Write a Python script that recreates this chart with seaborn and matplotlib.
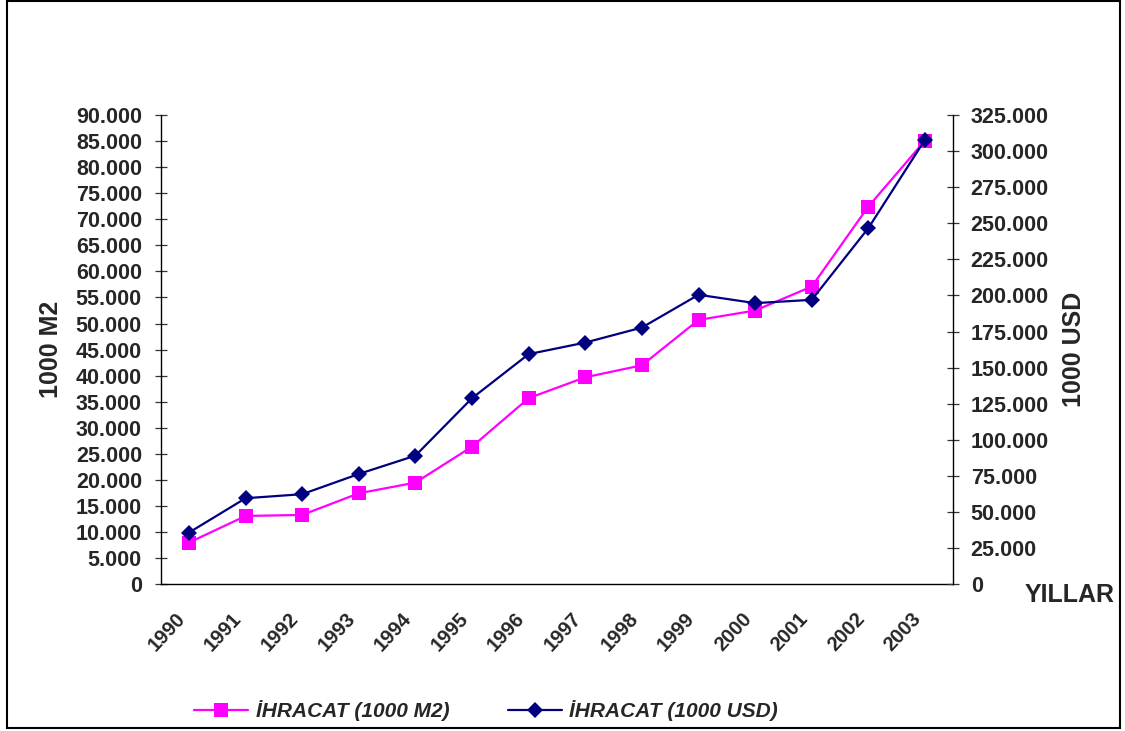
import numpy as np
import pandas as pd
import matplotlib
matplotlib.use("Agg")
import matplotlib.pyplot as plt
from matplotlib.ticker import FuncFormatter, MultipleLocator, FixedLocator
from matplotlib.patches import Rectangle
from matplotlib.lines import Line2D
import seaborn as sns

years = [1990, 1991, 1992, 1993, 1994, 1995, 1996, 1997, 1998, 1999, 2000, 2001, 2002, 2003]
ihracat_m2 = [8000, 13100, 13300, 17450, 19500, 26400, 35700, 39700, 42000, 50700, 52500, 57100, 72450, 85100]
ihracat_usd = [35800, 59600, 62400, 76400, 89100, 128900, 159400, 167400, 177800, 200500, 194700, 197000, 246700, 307900]

label_m2 = "İHRACAT (1000 M2)"
label_usd = "İHRACAT (1000 USD)"
pink = "#FF00FF"
navy = "#000080"

sns.set_style("white")
plt.rcParams['font.family'] = ['Liberation Sans', 'DejaVu Sans']
plt.rcParams['font.weight'] = 'bold'

df = pd.DataFrame({"yil": years, "m2": ihracat_m2, "usd": ihracat_usd})

fig = plt.figure(figsize=(11.25, 7.31), dpi=100)
ax = fig.add_axes([0.1428, 0.2007, 0.8474 - 0.1428, 0.8427 - 0.2007])
ax2 = ax.twinx()

sns.lineplot(data=df, x="yil", y="m2", ax=ax, color=pink, lw=1.6, marker="s",
             markersize=10.5, markeredgewidth=0, legend=False)
sns.lineplot(data=df, x="yil", y="usd", ax=ax2, color=navy, lw=1.6, marker="D",
             markersize=8, markeredgewidth=0, legend=False)

dot = FuncFormatter(lambda v, p: f"{v:,.0f}".replace(",", "."))

ax.set_xlim(years[0] - 0.5, years[-1] + 0.5)
ax.set_ylim(0, 90000)
ax2.set_ylim(0, 325000)
ax.yaxis.set_major_locator(MultipleLocator(5000))
ax2.yaxis.set_major_locator(MultipleLocator(25000))
ax.yaxis.set_major_formatter(dot)
ax2.yaxis.set_major_formatter(dot)

# tick marks on category edges, labels on category centres
ax.xaxis.set_major_locator(FixedLocator(np.arange(years[0] - 0.5, years[-1] + 1, 1)))
ax.xaxis.set_major_formatter(FuncFormatter(lambda v, p: ""))
ax.xaxis.set_minor_locator(FixedLocator(years))
ax.xaxis.set_minor_formatter(FuncFormatter(lambda v, p: str(int(round(v)))))

ax.tick_params(axis="x", which="major", direction="inout", length=9, width=0.9, color="#333333")
ax.tick_params(axis="x", which="minor", length=0, pad=18, labelsize=14.5)
ax.tick_params(axis="y", direction="inout", length=9, width=0.9, color="#333333",
               pad=9, labelsize=15.5, left=True)
ax2.tick_params(axis="y", direction="inout", length=9, width=0.9, color="#333333",
                pad=8, labelsize=15.5, right=True)
for t in ax.xaxis.get_minorticklabels():
    t.set_rotation(47)
    t.set_ha("right")
    t.set_va("top")
    t.set_fontweight("bold")

for a in (ax, ax2):
    a.spines["top"].set_visible(False)
    for s in ("left", "right", "bottom"):
        a.spines[s].set_color("black")
        a.spines[s].set_linewidth(1.0)
ax.spines["right"].set_visible(False)
ax2.spines["left"].set_visible(False)
ax2.spines["bottom"].set_visible(False)

ax.set_xlabel("")
ax.set_ylabel("1000 M2", fontsize=18, fontweight="bold")
ax.yaxis.set_label_coords(-0.123, 0.5)
ax2.set_ylabel("1000 USD", fontsize=18, fontweight="bold", rotation=90)
ax2.yaxis.set_label_coords(1.137, 0.5)

fig.text(1070 / 1125, 1 - 595 / 731, "YILLAR", fontsize=18, fontweight="bold",
         ha="center", va="center")

handles = [
    Line2D([], [], color=pink, lw=1.6, marker="s", markersize=10.5, markeredgewidth=0),
    Line2D([], [], color=navy, lw=1.6, marker="D", markersize=8, markeredgewidth=0),
]
fig.legend(handles, [label_m2, label_usd], loc="center", bbox_to_anchor=(486 / 1125, 1 - 711 / 731),
           ncol=2, frameon=False, handlelength=2.6, handletextpad=0.35, columnspacing=2.8,
           prop={"size": 15, "weight": "bold", "style": "italic"})

fig.patches.append(Rectangle((7 / 1125, 3 / 731), 1113 / 1125, 727 / 731, transform=fig.transFigure,
                             fill=False, edgecolor="black", lw=1.5))

fig.savefig("out.png", dpi=100)
